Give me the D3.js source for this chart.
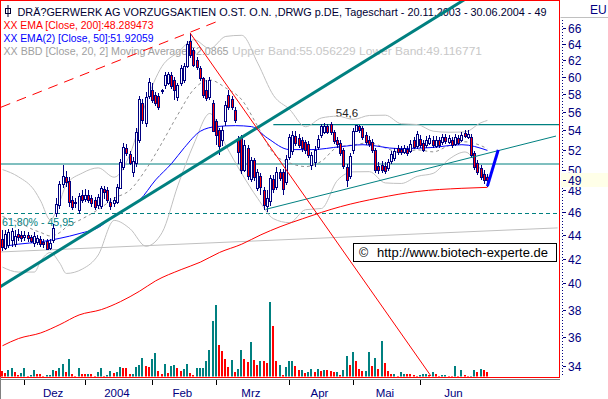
<!DOCTYPE html>
<html><head><meta charset="utf-8">
<script src="https://cdn.jsdelivr.net/npm/d3@7"></script>
<style>body{margin:0;background:#fff;} svg{display:block;font-family:"Liberation Sans",Arial,sans-serif;}</style>
</head><body><svg id="c" width="608" height="399"></svg>
<script>
// ---------------- DATA ----------------
const startDate = "2003-11-20", endDate = "2004-06-30";
const holidays = ["2003-12-24","2003-12-25","2003-12-26","2003-12-31","2004-01-01","2004-04-09","2004-04-12"];
const monthLabels = ["Dez","2004","Feb","Mrz","Apr","Mai","Jun"];
const priceTicks = [66,64,62,60,58,56,54,52,50,48,46,44,42,40,38,36,34];
const lastPrice = 49;

const open = [43.6,42.9,43.1,43.5,43.2,44.1,44.0,43.8,44.0,43.8,43.3,43.4,43.6,43.4,43.5,42.9,43.6,45.9,46.6,48.6,
49.3,48.9,47.1,46.8,46.2,47.6,47.2,47.6,47.3,47.1,46.7,46.5,48.1,48.0,46.9,46.8,46.9,48.3,50.3,52.2,
51.6,49.8,50.6,53.0,57.0,54.7,57.8,58.5,57.9,57.8,58.3,59.0,59.3,60.2,59.6,57.6,59.2,59.6,61.3,64.4,
63.2,62.0,61.0,59.8,58.5,57.6,57.0,55.0,54.0,52.9,54.9,57.9,57.4,56.2,53.0,53.2,50.0,52.2,49.1,51.0,
48.3,49.4,48.0,46.6,47.0,49.1,48.4,49.8,49.8,48.8,51.3,51.8,53.4,53.2,53.0,52.8,52.6,50.5,50.8,52.3,
53.5,53.9,54.5,54.7,53.8,53.0,52.7,52.0,50.3,49.4,51.9,54.0,54.5,54.3,53.5,53.0,52.8,52.0,50.4,50.5,
50.4,50.2,50.9,51.2,52.2,52.1,51.8,52.1,51.9,53.0,52.4,53.1,52.7,52.5,52.7,53.0,52.4,53.0,52.8,53.3,
52.8,53.0,52.6,53.2,53.0,53.7,53.3,53.3,51.7,50.7,50.2,49.6,49.3];
const high = [44.4,44.4,44.5,44.6,44.4,44.5,44.3,44.3,44.2,44.0,44.2,44.0,43.9,43.6,43.6,43.6,44.9,47.3,48.9,50.5,
49.9,49.3,47.5,47.3,47.8,48.0,48.1,48.0,47.6,47.4,47.7,48.4,48.4,48.3,47.3,47.4,48.6,51.1,52.7,52.6,
51.9,51.3,54.2,57.8,57.4,58.2,59.8,59.2,58.2,58.1,58.6,60.5,60.6,60.5,59.9,59.3,61.4,61.6,64.3,65.4,
63.5,62.3,61.3,60.0,59.6,60.0,57.3,55.2,54.2,54.5,57.2,58.5,57.8,56.5,53.4,53.5,53.0,52.5,51.3,51.2,
50.1,49.7,48.3,48.0,49.5,49.5,50.3,50.1,50.1,51.5,53.6,53.9,53.9,53.6,53.3,53.0,52.9,51.8,52.4,53.5,
54.7,54.8,54.7,54.9,54.0,53.3,53.0,52.2,50.6,51.7,54.2,54.6,54.6,54.5,53.8,53.4,53.1,52.2,50.8,50.9,
50.8,51.1,51.9,52.2,52.5,52.4,52.5,52.4,53.0,53.3,53.9,53.5,53.0,53.4,53.5,53.4,53.4,53.3,53.6,53.6,
53.5,53.3,53.6,53.5,53.8,54.0,54.0,53.6,51.9,51.0,50.5,50.0,49.6];
const low = [42.6,42.7,42.9,43.0,43.0,43.5,43.4,43.5,43.4,43.3,43.0,43.1,43.0,42.9,42.7,42.7,43.3,45.6,46.3,48.2,
48.3,46.5,46.2,46.4,45.8,46.8,46.9,46.8,46.5,46.2,46.3,46.3,47.2,46.8,46.2,46.5,46.7,48.1,50.0,51.4,
50.5,49.3,50.3,52.7,54.7,54.4,57.4,57.0,56.6,56.2,58.0,58.6,59.0,58.6,57.3,57.2,58.9,59.3,61.0,62.2,
61.1,60.8,59.5,57.5,57.2,57.3,53.8,52.5,51.5,52.4,54.5,56.2,56.2,54.8,50.6,49.6,49.8,49.0,48.8,48.9,
47.9,47.6,46.2,46.0,46.6,47.8,48.0,48.9,47.6,48.5,51.0,51.5,52.4,52.2,51.8,51.6,51.2,50.0,50.3,52.0,
53.2,53.6,53.6,53.5,52.6,52.2,51.4,50.1,48.3,49.1,51.6,53.8,53.7,53.0,52.5,52.3,51.7,49.7,49.6,49.7,
49.6,49.9,50.6,50.9,51.5,51.5,51.6,51.4,51.7,52.1,52.1,52.2,51.8,52.2,52.5,52.2,52.2,52.2,52.5,52.6,
52.6,52.2,52.4,52.5,52.8,53.2,53.1,51.2,50.0,49.5,49.0,48.6,48.3];
const close = [42.9,44.1,44.2,44.3,43.9,43.8,43.7,44.0,43.7,43.5,43.9,43.7,43.2,43.2,42.8,43.3,44.6,46.7,48.6,49.4,
48.8,46.9,46.5,46.9,47.5,47.1,47.6,47.1,46.8,46.5,47.4,48.2,47.8,47.1,46.5,47.1,48.3,50.8,52.3,51.7,
50.7,50.9,53.8,57.4,55.1,57.6,59.4,57.4,57.0,56.6,58.4,60.2,60.3,58.9,58.4,59.0,61.0,61.3,64.0,62.6,
61.4,61.2,59.8,57.8,57.6,59.6,54.0,53.5,52.3,54.0,56.7,56.6,56.5,55.1,51.8,50.0,52.5,49.4,51.0,49.3,
49.8,48.3,46.6,47.3,49.2,48.1,49.8,49.2,48.2,51.1,53.3,53.5,52.7,52.5,52.2,52.0,51.5,51.5,52.0,53.1,
54.5,54.5,53.9,53.8,52.9,52.6,51.7,50.4,49.0,51.4,53.9,54.6,54.1,53.3,52.8,52.6,52.0,50.0,50.0,50.0,
49.9,50.8,51.6,51.9,51.8,51.8,52.2,51.7,52.6,52.3,53.6,52.5,52.0,53.0,53.2,52.5,53.0,52.5,53.3,52.9,
53.2,52.5,53.3,52.7,53.5,53.4,53.6,51.5,50.3,49.8,49.3,49.0,49.0];
const volume = [6,4,7,9,5,2,4,9,1,2,7,3,3,1,2,2,7,6,9,13,
5,18,3,1,9,3,3,3,3,1,5,9,1,2,6,4,5,10,9,9,
3,3,10,12,19,11,10,18,24,6,3,13,4,11,12,9,6,8,13,4,
2,9,9,9,16,27,56,72,32,26,18,10,17,5,8,27,18,15,35,17,
12,16,16,14,75,51,16,12,2,10,16,16,11,7,7,4,5,8,5,8,
6,7,7,6,5,5,2,7,21,12,25,16,8,6,6,25,11,19,8,36,
14,6,3,3,1,5,3,3,3,2,1,2,3,3,2,5,3,1,2,2,
1,1,11,1,7,2,1,1,7,5,8,7,5];
const volumeUp = [0,0,1,1,0,0,1,1,0,1,1,0,0,0,1,1,1,0,1,1,
0,1,0,0,1,0,0,1,0,0,1,1,0,1,1,0,1,1,0,0,
0,1,1,1,1,0,0,1,1,0,0,1,0,1,1,0,0,1,1,0,
0,1,1,1,1,1,1,1,0,0,0,0,1,0,1,1,0,0,1,0,
0,1,0,0,1,0,0,1,0,1,1,1,0,0,1,0,1,1,0,1,
0,1,0,0,0,1,0,1,1,0,1,0,0,0,1,1,0,1,0,1,
0,0,0,1,0,1,1,0,0,0,0,1,1,1,0,1,0,0,1,1,
0,0,1,0,1,0,0,1,1,0,1,0,0];

// indicator series (index, value)
const ema200Idx = [0,5,12,18,24,31,37,43,48,56,62,68,75,81,87,94,106,118,130,144,152];
const ema200Val = [35.4,35.9,36.3,36.9,37.6,38.0,38.6,39.4,40.2,41.1,41.7,42.5,43.2,44.0,44.7,45.4,46.5,47.3,47.9,48.2,48.29];
const ema50Idx = [0,5,12,18,24,31,34,38,43,48,53,57,62,67,73,78,83,90,97,106,113,124,134,144,152];
const ema50Val = [43.0,43.2,43.4,43.7,44.1,44.8,45.5,46.2,47.1,49.0,50.6,52.2,53.9,54.4,54.5,54.4,53.2,52.0,52.0,52.3,52.5,52.1,52.2,52.5,51.92];
const bbIdx = [0,5,10,12,15,18,20,25,30,35,40,45,50,55,60,65,70,75,80,85,90,95,100,105,110,115,120,125,130,135,140,145,150,152];
const bbMid = [45.6,45.1,44.4,44.2,43.9,44.2,44.67,45.4,46.23,47.26,48.04,50.04,52.7,55.71,58.54,59.6,58.68,57.34,54.43,51.6,50.66,50.3,50.83,52.24,52.48,52.7,52.17,51.68,51.98,51.77,52.42,52.8,52.4,52.09];
const bbUpper = [50.0,49.3,48.0,47.0,45.3,47.0,48.55,49.66,50.17,49.26,51.56,57.06,61.22,62.93,64.5,63.38,64.92,65.06,61.61,57.8,56.26,54.38,55.33,55.52,55.18,55.6,55.63,54.7,54.62,53.91,53.8,53.84,54.82,55.06];
const bbLower = [41.3,40.9,40.9,41.8,42.5,41.6,40.79,41.14,42.29,45.26,44.52,43.02,44.18,48.49,52.58,55.82,52.44,49.62,47.25,45.4,45.06,46.22,46.33,48.96,49.78,49.8,48.71,48.66,49.34,49.63,51.04,51.76,49.98,49.12];

// drawn annotations: [index, price] end points
const trendThick = [[-1,39.7],[146,70.1]];
const trendThin = [[82.5,46.25],[173.5,53.4]];
const channelDashed = [[-0.5,56.5],[67.6,66.9]];
const trendDown = [[58.8,65.36],[134.3,33.36]];
const trendGray = [[-1,42.54],[174,44.6]];
const projection = [[152,48.4],[155.4,51.97]];
const resistance = 54.6, resistanceFrom = 84.9;
const support = 50.55;
const fibLevel = 45.95, fibText = "61,80% - 45,95";
const highText = "54,6", highIdx = 108;

const titleText = "DRÄ?GERWERK AG VORZUGSAKTIEN O.ST. O.N. ,DRWG p.DE, Tageschart - 20.11.2003 - 30.06.2004 - 49";
const legend1 = "XX EMA [Close, 200]:48.289473";
const legend2 = "XX EMA(2) [Close, 50]:51.92059";
const legend3a = "XX BBD [Close, 20, 2] Moving Average:52.0865";
const legend3b = "Upper Band:55.056229 Lower Band:49.116771";
const copyText = "http://www.biotech-experte.de";
const currency = "EU";

// ---------------- CHART ----------------
const fmt = d3.timeFormat("%Y-%m-%d");
const parse = d3.timeParse("%Y-%m-%d");
const days = d3.timeDay.range(parse(startDate), d3.timeDay.offset(parse(endDate),1))
  .filter(d => d.getDay() % 6 !== 0 && !holidays.includes(fmt(d)));
const n = close.length;

const svg = d3.select("#c");
const W = 608, H = 399, PR = 560, PB = 377;
const x = d3.scaleLinear().domain([0, n-1]).range([2.5, 487.4]);
const y = d3.scaleLog().domain([34, 66]).range([366.3, 28]);
const v = d3.scaleLinear().domain([0, 100]).range([PB, PB-100]);

const TEAL = "#008080", RED = "#ff0000", BLUE = "#0000ff", NAVY = "#000080";

svg.append("rect").attr("width", W).attr("height", H).attr("fill", "#fff");
svg.append("defs").append("clipPath").attr("id","plot").append("rect").attr("x",1).attr("y",1).attr("width",PR-1.5).attr("height",PB-1.5);

// legend texts
const tg = svg.append("g").attr("font-size", 11);
tg.append("rect").attr("x",5.5).attr("y",8.5).attr("width",5).attr("height",5).attr("fill","none").attr("stroke","#000033");
tg.append("line").attr("x1",8).attr("x2",8).attr("y1",5).attr("y2",17).attr("stroke","#000033");
tg.append("text").attr("x",17.5).attr("y",15.5).attr("fill","#000033").attr("textLength",529).attr("lengthAdjust","spacingAndGlyphs").text(titleText);
tg.append("text").attr("x",3.5).attr("y",28.5).attr("fill",RED).attr("textLength",150).attr("lengthAdjust","spacingAndGlyphs").text(legend1);
tg.append("text").attr("x",3.5).attr("y",41.5).attr("fill",BLUE).attr("textLength",150).attr("lengthAdjust","spacingAndGlyphs").text(legend2);
tg.append("text").attr("x",3.5).attr("y",55).attr("fill","#a0a0a0").attr("textLength",225).attr("lengthAdjust","spacingAndGlyphs").text(legend3a);
tg.append("text").attr("x",232).attr("y",55).attr("fill","#c8c8c8").attr("textLength",250).attr("lengthAdjust","spacingAndGlyphs").text(legend3b);

const g = svg.append("g").attr("clip-path","url(#plot)");
const seg = (pts) => d3.line().x(d => x(d[0])).y(d => y(d[1]))(pts);

// straight gray line
g.append("path").attr("d", seg(trendGray)).attr("stroke","#c0c0c0").attr("fill","none");
// horizontals
g.append("line").attr("x1",0).attr("x2",PR).attr("y1",y(support)).attr("y2",y(support)).attr("stroke",TEAL).attr("stroke-width",1.2);
g.append("line").attr("x1",x(resistanceFrom)).attr("x2",PR).attr("y1",y(resistance)).attr("y2",y(resistance)).attr("stroke",TEAL).attr("stroke-width",1.2);
g.append("line").attr("x1",0).attr("x2",PR).attr("y1",Math.round(y(fibLevel))+0.5).attr("y2",Math.round(y(fibLevel))+0.5).attr("stroke",TEAL).attr("stroke-dasharray","4,3");
g.append("text").attr("x",2).attr("y",y(fibLevel)+13).attr("font-size",11).attr("fill",TEAL).attr("textLength",72).attr("lengthAdjust","spacingAndGlyphs").text(fibText);
g.append("text").attr("x",x(highIdx)).attr("y",y(resistance)-8).attr("font-size",11.5).attr("fill","#222").attr("text-anchor","middle").text(highText);

// Bollinger bands
const bandLine = vals => d3.line().curve(d3.curveMonotoneX).x((d,i) => x(bbIdx[i])).y(d => y(d))(vals);
g.append("path").attr("d", bandLine(bbUpper)).attr("fill","none").attr("stroke","#c0c0c0");
g.append("path").attr("d", bandLine(bbLower)).attr("fill","none").attr("stroke","#c0c0c0");
g.append("path").attr("d", bandLine(bbMid)).attr("fill","none").attr("stroke","#909090").attr("stroke-dasharray","3,3");

// EMAs
const emaLine = (idx, vals) => d3.line().curve(d3.curveMonotoneX).x((d,i) => x(idx[i])).y(d => y(d))(vals);
g.append("path").attr("d", emaLine(ema200Idx, ema200Val)).attr("fill","none").attr("stroke",RED);
g.append("path").attr("d", emaLine(ema50Idx, ema50Val)).attr("fill","none").attr("stroke",BLUE);

// volume
g.selectAll("rect.vol").data(volume).enter().append("rect").attr("class","vol")
  .attr("x", (d,i) => Math.floor(x(i)) - 1).attr("width", 2)
  .attr("y", d => v(d)).attr("height", d => PB - v(d))
  .attr("fill", (d,i) => volumeUp[i] ? TEAL : RED).attr("shape-rendering","crispEdges");

// candles
const cg = g.append("g").attr("shape-rendering","crispEdges");
d3.range(n).forEach(i => {
  const cx = Math.floor(x(i));
  cg.append("line").attr("x1",cx+0.5).attr("x2",cx+0.5).attr("y1",y(high[i])).attr("y2",y(low[i])).attr("stroke",NAVY);
  const top = y(Math.max(open[i], close[i])), bot = y(Math.min(open[i], close[i]));
  cg.append("rect").attr("x",cx-0.5).attr("y",Math.round(top)+0.5).attr("width",2).attr("height",Math.max(1, Math.round(bot-top)))
    .attr("fill", close[i] >= open[i] ? "#fff" : RED).attr("stroke",NAVY);
});

// trend lines
g.append("path").attr("d", seg(trendThick)).attr("stroke",TEAL).attr("stroke-width",3).attr("fill","none");
g.append("path").attr("d", seg(trendThin)).attr("stroke",TEAL).attr("stroke-width",1).attr("fill","none");
g.append("path").attr("d", seg(channelDashed)).attr("stroke",RED).attr("stroke-width",1).attr("stroke-dasharray","10,7").attr("fill","none");
g.append("path").attr("d", seg(trendDown)).attr("stroke",RED).attr("stroke-width",1).attr("fill","none");
g.append("path").attr("d", seg(projection)).attr("stroke",BLUE).attr("stroke-width",3).attr("fill","none");

// copyright box
svg.append("rect").attr("x",353.5).attr("y",243.5).attr("width",203).attr("height",18).attr("fill","#fff").attr("stroke","#000");
svg.append("text").attr("x",359).attr("y",257).attr("font-size",12.5).attr("fill","#000").text("©");
svg.append("text").attr("x",377).attr("y",257).attr("font-size",12.5).attr("fill","#000").attr("textLength",171).attr("lengthAdjust","spacingAndGlyphs").text(copyText);

// frame
svg.append("rect").attr("x",0.5).attr("y",0.5).attr("width",PR-1).attr("height",PB).attr("fill","none").attr("stroke",RED);

// bottom axis
svg.append("line").attr("x1",0).attr("x2",PR).attr("y1",379.5).attr("y2",379.5).attr("stroke","#808080");
svg.append("line").attr("x1",0.5).attr("x2",0.5).attr("y1",377).attr("y2",H).attr("stroke","#808080");
const bounds = d3.range(1, n).filter(i => days[i].getMonth() !== days[i-1].getMonth());
bounds.forEach((b, k) => {
  const bx = Math.floor(x(b)) + 0.5;
  svg.append("line").attr("x1",bx).attr("x2",bx).attr("y1",380).attr("y2",385).attr("stroke","#000");
  const next = k + 1 < bounds.length ? bounds[k+1] : n;
  svg.append("text").attr("x",(x(b)+x(next))/2 - 2).attr("y",397).attr("text-anchor","middle")
    .attr("font-size",11.5).attr("fill",NAVY).text(monthLabels[k]);
});

// right axis
svg.append("line").attr("x1",PR+0.5).attr("x2",W).attr("y1",17.5).attr("y2",17.5).attr("stroke","#c0c0c0");
svg.append("text").attr("x",590).attr("y",14).attr("font-size",12).attr("fill",NAVY).text(currency);
svg.append("line").attr("x1",562.5).attr("x2",562.5).attr("y1",20).attr("y2",PB).attr("stroke",NAVY).attr("stroke-dasharray","1,2");
priceTicks.forEach(t => {
  const ty = Math.round(y(t)) + 0.5;
  svg.append("line").attr("x1",563).attr("x2",566).attr("y1",ty).attr("y2",ty).attr("stroke",NAVY);
  svg.append("text").attr("x",568).attr("y",ty+4.5).attr("font-size",12).attr("fill",NAVY).text(t);
});
const ly = Math.round(y(lastPrice)) + 0.5;
svg.append("rect").attr("x",561).attr("y",ly-7.5).attr("width",47).attr("height",14).attr("fill","#ffffe8");
svg.append("line").attr("x1",563).attr("x2",566).attr("y1",ly).attr("y2",ly).attr("stroke",NAVY);
svg.append("text").attr("x",568).attr("y",ly+4.5).attr("font-size",12).attr("fill",NAVY).text(lastPrice);
</script></body></html>
